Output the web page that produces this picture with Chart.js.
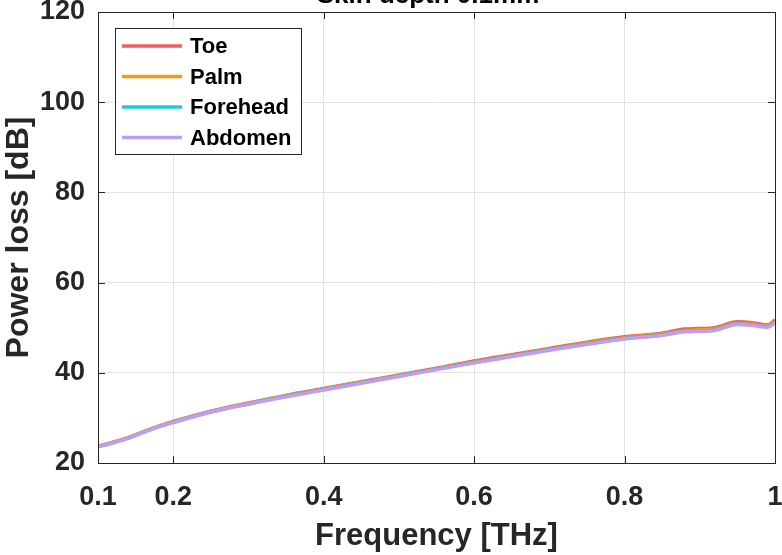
<!DOCTYPE html>
<html>
<head>
<meta charset="utf-8">
<script src="https://cdn.jsdelivr.net/npm/chart.js@4/dist/chart.umd.min.js"></script>
<style>
  html, body { margin: 0; padding: 0; background: #fff; }
  #wrap { width: 782px; height: 555px; }
</style>
</head>
<body>
<div id="wrap"><canvas id="lossChart" width="782" height="555"></canvas></div>
<script>
// values
const freq = [0.1, 0.12, 0.14, 0.16, 0.18, 0.2, 0.25, 0.3, 0.35, 0.4, 0.45, 0.5, 0.55, 0.6,
              0.65, 0.7, 0.75, 0.8, 0.85, 0.88, 0.9, 0.92, 0.95, 0.97, 0.99, 1.0];
const toe      = [23.7, 24.6, 25.6, 26.9, 28.1, 29.2, 31.5, 33.3, 35.0, 36.5, 38.0, 39.5, 41.0, 42.6,
                  44.0, 45.4, 46.8, 48.0, 48.8, 49.7, 49.8, 50.0, 51.3, 51.1, 50.6, 51.7];
const palm     = [23.7, 24.6, 25.6, 26.9, 28.1, 29.1, 31.4, 33.2, 34.9, 36.4, 37.9, 39.4, 40.9, 42.4,
                  43.8, 45.2, 46.6, 47.8, 48.6, 49.4, 49.5, 49.7, 51.0, 50.8, 50.4, 51.4];
const forehead = [23.6, 24.5, 25.5, 26.8, 28.0, 29.0, 31.3, 33.1, 34.8, 36.3, 37.8, 39.3, 40.8, 42.3,
                  43.7, 45.1, 46.4, 47.6, 48.4, 49.2, 49.3, 49.5, 50.8, 50.6, 50.2, 51.1];
const abdomen  = [23.6, 24.5, 25.5, 26.8, 28.0, 29.0, 31.3, 33.1, 34.7, 36.2, 37.7, 39.2, 40.7, 42.2,
                  43.6, 45.0, 46.3, 47.5, 48.3, 49.1, 49.2, 49.4, 50.7, 50.5, 50.1, 51.0];
const xTicks = [0.1, 0.2, 0.4, 0.6, 0.8, 1];
const yTicks = [20, 40, 60, 80, 100, 120];
const seriesNames = ["Toe", "Palm", "Forehead", "Abdomen"];
const seriesColors = ["#f25c5c", "#ff9414", "#1ec8e6", "#c09cf4"];
const titleText = "Skin depth 0.1mm";

const FONT = "Arial, 'Liberation Sans', sans-serif";

function pts(ys) {
  return freq.map(function(f, i) { return { x: f, y: ys[i] }; });
}

// labels may hang over the plot edges, like matlab does
function noOverhang(axis) {
  axis.paddingLeft = 0; axis.paddingRight = 0;
  axis.paddingTop = 0; axis.paddingBottom = 0;
}

// MATLAB style box, inward ticks, cut-off title and legend
const matlabBits = {
  id: 'matlabBits',
  afterDraw: function(chart) {
    var ctx = chart.ctx, a = chart.chartArea;
    var xs = chart.scales.x, ys = chart.scales.y;
    ctx.save();
    ctx.strokeStyle = '#262626';
    ctx.lineWidth = 1;
    ctx.strokeRect(Math.round(a.left) + 0.5, Math.round(a.top) + 0.5,
                   Math.round(a.right - a.left), Math.round(a.bottom - a.top));
    ctx.beginPath();
    xTicks.forEach(function(v) {
      var px = Math.round(xs.getPixelForValue(v)) + 0.5;
      ctx.moveTo(px, a.bottom); ctx.lineTo(px, a.bottom - 7);
      ctx.moveTo(px, a.top); ctx.lineTo(px, a.top + 7);
    });
    yTicks.forEach(function(v) {
      var py = Math.round(ys.getPixelForValue(v)) + 0.5;
      ctx.moveTo(a.left, py); ctx.lineTo(a.left + 7, py);
      ctx.moveTo(a.right, py); ctx.lineTo(a.right - 7, py);
    });
    ctx.stroke();

    // title, mostly above the canvas edge
    ctx.fillStyle = '#000';
    ctx.font = 'bold 26px ' + FONT;
    ctx.textAlign = 'center';
    ctx.textBaseline = 'alphabetic';
    ctx.fillText(titleText, 428, 3);

    // legend
    var lx = 115.5, ly = 28.5, lw = 186, lh = 126;
    ctx.fillStyle = '#fff';
    ctx.fillRect(lx, ly, lw, lh);
    ctx.strokeStyle = '#262626';
    ctx.strokeRect(lx, ly, lw, lh);
    ctx.font = 'bold 22px ' + FONT;
    ctx.textAlign = 'left';
    ctx.textBaseline = 'middle';
    chart.data.datasets.forEach(function(ds, i) {
      var yy = 46 + i * 30.5;
      ctx.strokeStyle = ds.borderColor;
      ctx.lineWidth = 3.5;
      ctx.beginPath();
      ctx.moveTo(122, yy); ctx.lineTo(182, yy);
      ctx.stroke();
      ctx.fillStyle = '#000';
      ctx.fillText(ds.label, 190, yy + 1);
    });
    ctx.restore();
  }
};

var datasets = [toe, palm, forehead, abdomen].map(function(s, i) {
  return {
    label: seriesNames[i],
    data: pts(s),
    borderColor: seriesColors[i],
    backgroundColor: seriesColors[i],
    borderWidth: 3.5,
    pointRadius: 0,
    fill: false,
    order: 3 - i, // abdomen ends up on top
    cubicInterpolationMode: 'monotone'
  };
});

new Chart(document.getElementById('lossChart').getContext('2d'), {
  type: 'line',
  data: { datasets: datasets },
  options: {
    responsive: false,
    animation: false,
    layout: { padding: { top: 12, right: 7, left: 0, bottom: 0 } },
    plugins: { legend: { display: false }, tooltip: { enabled: false } },
    scales: {
      x: {
        type: 'linear',
        min: 0.1, max: 1,
        afterBuildTicks: function(axis) { axis.ticks = xTicks.map(function(v) { return { value: v }; }); },
        afterFit: function(axis) { axis.height = 92; noOverhang(axis); },
        grid: { color: '#e3e3e3', drawTicks: false },
        border: { display: false },
        ticks: {
          color: '#262626', padding: 18, maxRotation: 0,
          font: { family: FONT, size: 27, weight: 'bold' },
          callback: function(v) { return String(v); }
        },
        title: {
          display: true, text: 'Frequency [THz]', color: '#262626',
          font: { family: FONT, size: 31, weight: 'bold' }, padding: { top: 4, bottom: 0 }
        }
      },
      y: {
        min: 20, max: 120,
        afterBuildTicks: function(axis) { axis.ticks = yTicks.map(function(v) { return { value: v }; }); },
        afterFit: function(axis) { axis.width = 98; noOverhang(axis); },
        grid: { color: '#e3e3e3', drawTicks: false },
        border: { display: false },
        ticks: {
          color: '#262626', padding: 13,
          font: { family: FONT, size: 27, weight: 'bold' }
        },
        title: {
          display: true, text: 'Power loss [dB]', color: '#262626',
          font: { family: FONT, size: 32, weight: 'bold' }, padding: { top: 0, bottom: 0 }
        }
      }
    }
  },
  plugins: [matlabBits]
});
</script>
</body>
</html>
